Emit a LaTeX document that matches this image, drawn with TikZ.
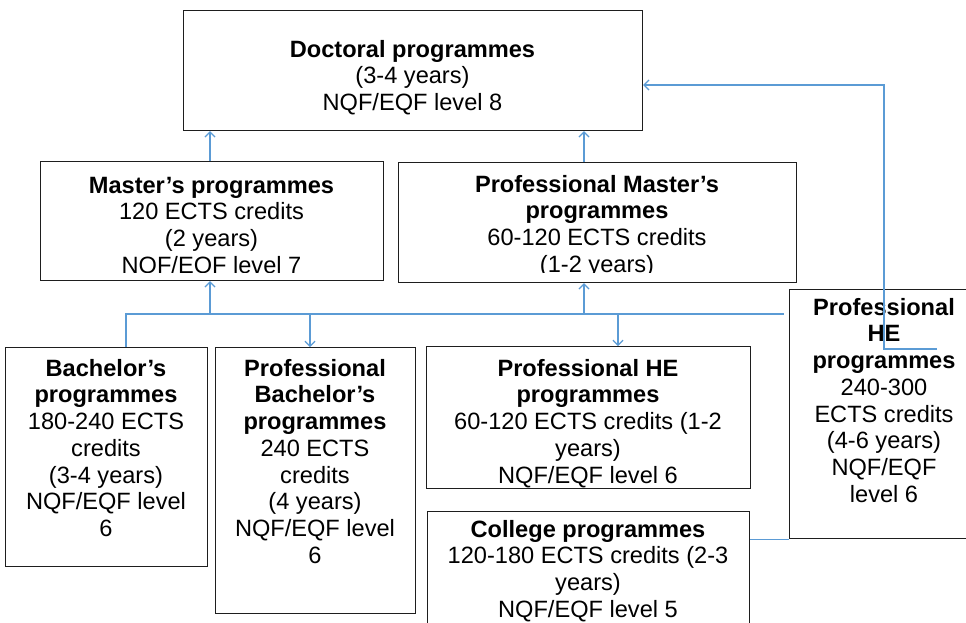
\documentclass[tikz,border=0pt]{standalone}
\usepackage{fontspec}
\setmainfont{Liberation Sans}
\usetikzlibrary{arrows.meta}
\definecolor{linkblue}{RGB}{91,155,213}
\definecolor{boxline}{RGB}{30,30,30}
\begin{document}
\begin{tikzpicture}[x=1pt,y=-1pt,
  box/.style={draw=boxline, line width=1.2pt, inner sep=0pt, anchor=north west, fill=white},
  txt/.style={align=center, inner sep=0pt, anchor=north, font=\fontsize{23.6}{26.7}\selectfont},
  link/.style={draw=linkblue, line width=1.2pt},
  arr/.style={link, -{Straight Barb[length=5pt,width=10pt]}}]
\clip (0,0) rectangle (966,622);
\fill[white] (0,0) rectangle (966,622);
% boxes
\node[box, minimum width=459pt, minimum height=120pt] (doc) at (183,10) {};
\node[box, minimum width=343pt, minimum height=119pt] (mas) at (40,161) {};
\node[box, minimum width=398pt, minimum height=120pt] (pmas) at (398,162) {};
\node[box, minimum width=202pt, minimum height=219pt] (bach) at (5,347) {};
\node[box, minimum width=200pt, minimum height=266pt] (pbach) at (215,347) {};
\node[box, minimum width=324pt, minimum height=142pt] (phe) at (426,346) {};
\node[box, minimum width=322pt, minimum height=140pt] (col) at (427,511) {};
\node[box, minimum width=190pt, minimum height=249pt] (phetwo) at (789,289) {};
% texts
\node[txt] (doct) at (412.5,39) {\rule{0pt}{18pt}\textbf{Doctoral programmes}\\(3-4 years)\\NQF/EQF level 8};
\begin{scope}
\clip (40,161) rectangle (383,272);
\node[txt] (mast) at (211.5,175) {\rule{0pt}{18pt}\textbf{Master’s programmes}\\120 ECTS credits\\(2 years)\\NQF/EQF level 7};
\end{scope}
\begin{scope}
\clip (398,162) rectangle (796,272);
\node[txt] (pmast) at (597,174) {\rule{0pt}{18pt}\textbf{Professional Master’s}\\\textbf{programmes}\\60-120 ECTS credits\\(1-2 years)};
\end{scope}
\node[txt] (bacht) at (106,358) {\rule{0pt}{18pt}\textbf{Bachelor’s}\\\textbf{programmes}\\180-240 ECTS\\credits\\(3-4 years)\\NQF/EQF level\\6};
\node[txt] (pbacht) at (315,358) {\rule{0pt}{18pt}\textbf{Professional}\\\textbf{Bachelor’s}\\\textbf{programmes}\\240 ECTS\\credits\\(4 years)\\NQF/EQF level\\6};
\node[txt] (phet) at (588,358) {\rule{0pt}{18pt}\textbf{Professional HE}\\\textbf{programmes}\\60-120 ECTS credits (1-2\\years)\\NQF/EQF level 6};
\node[txt] (colt) at (588,519) {\rule{0pt}{18pt}\textbf{College programmes}\\120-180 ECTS credits (2-3\\years)\\NQF/EQF level 5};
\node[txt] (phetwot) at (884,297) {\rule{0pt}{18pt}\textbf{Professional}\\\textbf{HE}\\\textbf{programmes}\\240-300\\ECTS credits\\(4-6 years)\\NQF/EQF\\level 6};
% connectors
\coordinate (a1) at (210,161);
\coordinate (a2) at (584,162);
\draw[arr] (a1) -- (a1 |- doc.south);
\draw[arr] (a2) -- (a2 |- doc.south);
\coordinate (bL) at (126,314);
\coordinate (bR) at (784,314);
\coordinate (u1) at (210,314);
\coordinate (d1) at (310,314);
\coordinate (u2) at (584,314);
\coordinate (d2) at (618,314);
\draw[link] (bL |- bach.north) -- (bL) -- (bR);
\draw[arr] (u1) -- (u1 |- mas.south);
\draw[arr] (d1) -- (d1 |- pbach.north);
\draw[arr] (u2) -- (u2 |- pmas.south);
\draw[arr] (d2) -- (d2 |- phe.north);
\coordinate (r1) at (937,349);
\coordinate (r2) at (884,349);
\coordinate (r3) at (884,85);
\draw[arr] (r1) -- (r2) -- (r3) -- (r3 -| doc.east);
\draw[link] (col.north east |- phetwo.south west) -- (phetwo.south west);
\end{tikzpicture}
\end{document}
